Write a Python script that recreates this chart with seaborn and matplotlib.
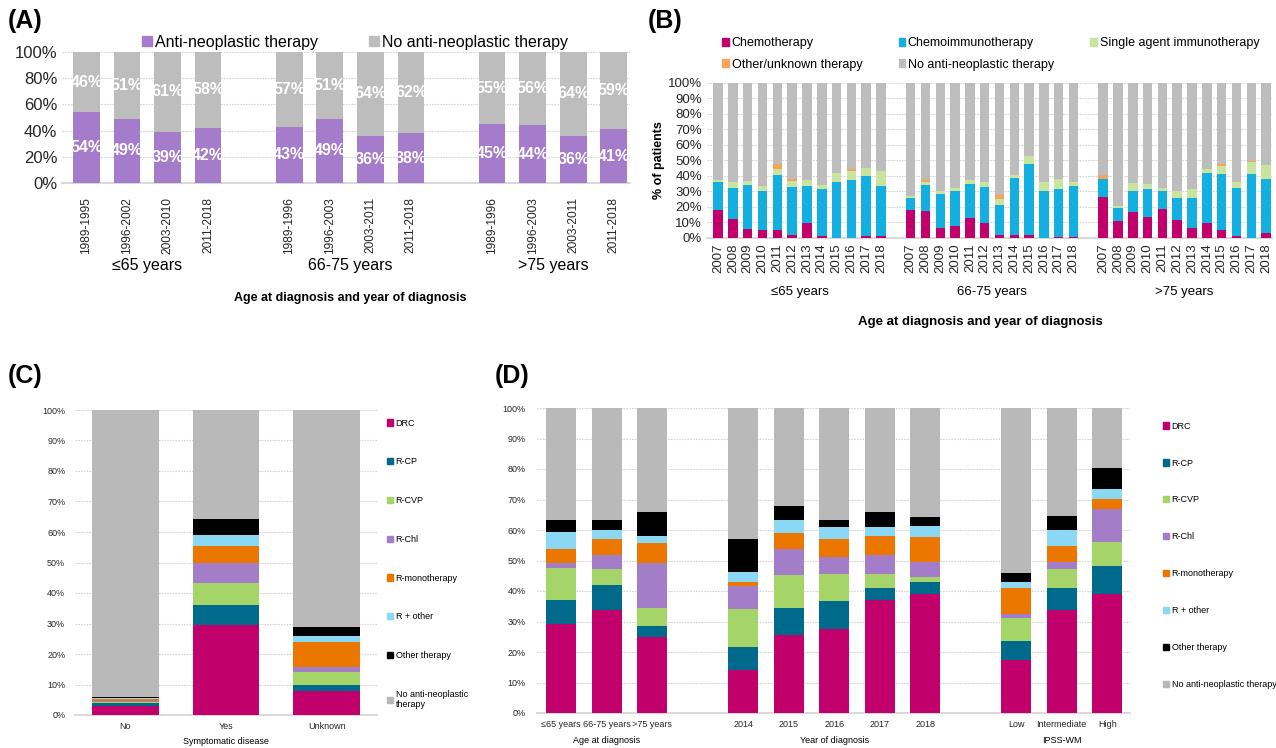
import numpy as np
import matplotlib

matplotlib.use("Agg")
import matplotlib.pyplot as plt
import seaborn as sns
from matplotlib.patches import Patch
from matplotlib import font_manager

W, H = 1276, 748

# ---------------- panel A: any therapy, by age group and period
a_ticks = ["1989-1995", "1996-2002", "2003-2010", "2011-2018",
           "1989-1996", "1996-2003", "2003-2011", "2011-2018",
           "1989-1996", "1996-2003", "2003-2011", "2011-2018"]
a_groups = ["≤65 years", "66-75 years", ">75 years"]
a_treated = [54, 49, 39, 42, 43, 49, 36, 38, 45, 44, 36, 41]
a_untreated = [46, 51, 61, 58, 57, 51, 64, 62, 55, 56, 64, 59]

# ---------------- panel B: therapy type by year (2007-2018) per age group
b_years = [str(y) for y in range(2007, 2019)]
b_groups = ["≤65 years", "66-75 years", ">75 years"]
b_chemo = [18, 12, 6, 5, 5, 2, 9.5, 1.3, 0, 0, 1.5, 1.3,
           17.8, 17.1, 6.6, 7.7, 12.6, 9.9, 1.9, 1.9, 1.9, 0, 0.6, 0.6,
           26.3, 11.1, 16.7, 13.5, 18.8, 11.8, 6.2, 9.9, 5.4, 1.3, 0, 3]
b_chemoimmuno = [18, 20, 28, 25, 35.5, 31, 24, 30, 36, 37.5, 38.5, 32.5,
                 7.7, 17.2, 21.7, 22.7, 22.1, 23.3, 19.7, 36.6, 45.6, 30, 30.9, 33,
                 11.8, 8, 13.7, 18.2, 11.6, 13.7, 19.3, 32.3, 36.1, 31.2, 41.1, 35.1]
b_single = [1.3, 4, 3, 3.5, 4.3, 3.6, 3.7, 3, 5.8, 5.8, 5, 9.4,
            1.5, 1.7, 1.7, 1.7, 2.6, 2.8, 3.7, 2.2, 5.2, 6, 6.6, 2.8,
            0, 1.5, 4.9, 3, 2.1, 4.9, 6, 2.1, 4.8, 3.9, 8.2, 9]
b_other = [0, 0, 0, 0, 2.8, 1.3, 0, 0, 0, 1, 0, 0,
           0, 1.5, 0, 0, 0, 0, 2.5, 0, 0, 0, 0, 0,
           2.6, 0, 0, 0, 0, 0, 0, 0, 1.2, 0, 0.6, 0]

# ---------------- panel C: first-line regimen by symptomatic disease
c_cats = ["No", "Yes", "Unknown"]
c_drc = [3.1, 29.6, 7.8]
c_rcp = [0.7, 6.4, 2.0]
c_rcvp = [0.3, 7.3, 4.2]
c_rchl = [0.5, 6.5, 1.9]
c_rmono = [0.6, 5.7, 7.9]
c_rother = [0.3, 3.6, 2.0]
c_othertx = [0.3, 5.1, 3.2]

# ---------------- panel D: first-line regimen by age, year and IPSS-WM
d_cats = ["≤65 years", "66-75 years", ">75 years",
          "2014", "2015", "2016", "2017", "2018",
          "Low", "Intermediate", "High"]
d_groups = ["Age at diagnosis", "Year of diagnosis", "IPSS-WM"]
d_drc = [29.3, 33.8, 25.0, 14.0, 25.5, 27.5, 36.9, 39.1, 17.3, 33.7, 39.0]
d_rcp = [7.9, 8.3, 3.6, 7.7, 8.9, 9.3, 4.2, 3.8, 6.3, 7.4, 9.2]
d_rcvp = [10.5, 5.1, 5.8, 12.4, 10.7, 8.9, 4.6, 1.7, 7.4, 6.0, 7.8]
d_rchl = [1.4, 4.5, 14.7, 7.6, 8.8, 5.4, 6.1, 4.9, 1.5, 2.4, 10.9]
d_rmono = [4.6, 5.5, 6.5, 1.2, 5.2, 5.8, 6.2, 8.2, 8.4, 5.3, 3.3]
d_rother = [5.6, 2.7, 2.4, 3.3, 4.3, 4.1, 3.0, 3.7, 2.0, 5.1, 3.2]
d_othertx = [4.1, 3.5, 7.8, 10.7, 4.6, 2.4, 5.0, 2.9, 3.1, 4.7, 7.0]

regimen_names = ["DRC", "R-CP", "R-CVP", "R-Chl", "R-monotherapy",
                 "R + other", "Other therapy", "No anti-neoplastic therapy"]
regimen_colors = ["#c1006c", "#006a8c", "#a5d568", "#a47dc9", "#ec7700",
                  "#8ad8f3", "#000000", "#b9b9b9"]
b_names = ["Chemotherapy", "Chemoimmunotherapy", "Single agent immunotherapy",
           "Other/unknown therapy", "No anti-neoplastic therapy"]
b_colors = ["#c1006c", "#14afe1", "#c8e49e", "#f5a55a", "#bdbdbd"]
PURPLE, GREY = "#a47ccb", "#bdbdbd"

sns.set_theme(style="white")
plt.rcParams["font.family"] = ["Liberation Sans", "DejaVu Sans"]
plt.rcParams["text.color"] = "black"

# condensed face for the rotated period labels of panel A, if present
installed = {f.name for f in font_manager.fontManager.ttflist}
if "Liberation Sans Narrow" in installed:
    NARROW, ROT_FS = ["Liberation Sans Narrow", "DejaVu Sans"], 10.5
else:
    NARROW, ROT_FS = ["Liberation Sans", "DejaVu Sans"], 8.6


def fx(x):
    return x / W


def fy(y):
    return 1 - y / H


def add_ax(fig, left, top, right, bottom):
    return fig.add_axes([fx(left), fy(bottom), (right - left) / W, (bottom - top) / H])


def with_gaps(sizes):
    # positions for groups of bars with one empty slot between groups
    pos, start = [], 0
    for n in sizes:
        pos += list(range(start, start + n))
        start += n + 1
    return pos


def stack_bars(ax, pos, layers, colors, width):
    # draw cumulative totals from the top down so each layer covers the next
    layers = np.array(layers, dtype=float)
    rest = 100 - layers.sum(axis=0)
    layers = np.vstack([layers, rest])
    cum = np.cumsum(layers, axis=0)
    for top, col in zip(cum[::-1], colors[::-1]):
        sns.barplot(x=pos, y=top, color=col, width=width, native_scale=True,
                    saturation=1, linewidth=0, ax=ax, zorder=3)


def style_axes(ax, step, fs, xlim):
    ax.set_xlim(*xlim)
    ax.set_ylim(0, 100)
    ticks = np.arange(0, 101, step)
    ax.set_yticks(ticks)
    ax.set_yticklabels([f"{t}%" for t in ticks], fontsize=fs)
    ax.yaxis.grid(True, color="#d4d4d4", linestyle=(0, (1.5, 1)), linewidth=0.8)
    ax.xaxis.grid(False)
    ax.set_axisbelow(True)
    for s in ["top", "right", "left"]:
        ax.spines[s].set_visible(False)
    ax.spines["bottom"].set_color("#d4d4d4")
    ax.tick_params(length=0)
    ax.set_xlabel("")
    ax.set_ylabel("")


fig = plt.figure(figsize=(W / 100, H / 100), dpi=100)
fig.patch.set_facecolor("white")

# ================= (A)
axA = add_ax(fig, 62, 52, 630, 183)
posA = with_gaps([4, 4, 4])
stack_bars(axA, posA, [a_treated], [PURPLE, GREY], 0.66)
style_axes(axA, 20, 12, (-0.6, 13.4))
axA.set_xticks(posA)
axA.set_xticklabels(a_ticks, rotation=90, fontsize=ROT_FS, family=NARROW)
axA.tick_params(axis="x", pad=10)
for p, t, u in zip(posA, a_treated, a_untreated):
    axA.text(p, t / 2, f"{t}%", color="white", fontsize=11.5, fontweight="bold",
             ha="center", va="center", zorder=5)
    axA.text(p, t + u / 2, f"{u}%", color="white", fontsize=11.5, fontweight="bold",
             ha="center", va="center", zorder=5)
for g, name in enumerate(a_groups):
    axA.text(np.mean(posA[g * 4:g * 4 + 4]), -0.63, name, transform=axA.get_xaxis_transform(),
             ha="center", va="center", fontsize=11.5)
fig.text(fx(350), fy(298), "Age at diagnosis and year of diagnosis", ha="center",
         va="center", fontsize=9, fontweight="bold")
axA.legend([Patch(color=PURPLE), Patch(color=GREY)],
           ["Anti-neoplastic therapy", "No anti-neoplastic therapy"],
           loc="center", bbox_to_anchor=(fx(355), fy(42)), bbox_transform=fig.transFigure,
           ncol=2, frameon=False, fontsize=11.5, handlelength=0.6, handleheight=0.6,
           handletextpad=0.2, columnspacing=3.2, borderpad=0)
fig.text(fx(8), fy(21), "(A)", fontsize=18, fontweight="bold", va="center")

# ================= (B)
axB = add_ax(fig, 707, 83, 1272, 238)
posB = with_gaps([12, 12, 12])
stack_bars(axB, posB, [b_chemo, b_chemoimmuno, b_single, b_other], b_colors, 0.64)
style_axes(axB, 10, 9.5, (-0.75, 37.4))
axB.set_xticks(posB)
axB.set_xticklabels(b_years * 3, rotation=90, fontsize=9.5)
axB.tick_params(axis="x", pad=4)
for g, name in enumerate(b_groups):
    axB.text(np.mean(posB[g * 12:g * 12 + 12]), -0.35, name, transform=axB.get_xaxis_transform(),
             ha="center", va="center", fontsize=9.5)
fig.text(fx(980), fy(322), "Age at diagnosis and year of diagnosis", ha="center",
         va="center", fontsize=9.5, fontweight="bold")
fig.text(fx(659), fy(160), "% of patients", rotation=90, ha="center", va="center",
         fontsize=9, fontweight="bold")
order = [0, 3, 1, 4, 2]
axB.legend([Patch(color=b_colors[i]) for i in order], [b_names[i] for i in order],
           loc="upper left", bbox_to_anchor=(fx(716), fy(31)), bbox_transform=fig.transFigure,
           ncol=3, frameon=False, fontsize=9, handlelength=0.55, handleheight=0.55,
           handletextpad=0.2, columnspacing=2.9, labelspacing=0.75, borderpad=0)
fig.text(fx(648), fy(21), "(B)", fontsize=18, fontweight="bold", va="center")

# ================= (C)
axC = add_ax(fig, 75, 410, 377, 715)
posC = [0, 1, 2]
stack_bars(axC, posC, [c_drc, c_rcp, c_rcvp, c_rchl, c_rmono, c_rother, c_othertx],
           regimen_colors, 0.66)
style_axes(axC, 10, 6.5, (-0.5, 2.5))
axC.set_xticks(posC)
axC.set_xticklabels(c_cats, fontsize=6.5)
axC.tick_params(axis="x", pad=5)
axC.tick_params(axis="y", pad=7)
fig.text(fx(226), fy(742), "Symptomatic disease", ha="center", va="center", fontsize=6.5)
c_labels = regimen_names[:-1] + ["No anti-neoplastic\ntherapy"]
axC.legend([Patch(color=c) for c in regimen_colors], c_labels,
           loc="upper left", bbox_to_anchor=(fx(382), fy(414)), bbox_transform=fig.transFigure,
           frameon=False, fontsize=6.5, handlelength=0.7, handleheight=0.7,
           handletextpad=0.3, labelspacing=3.3, borderpad=0)
fig.text(fx(8), fy(376), "(C)", fontsize=18, fontweight="bold", va="center")

# ================= (D)
axD = add_ax(fig, 537, 408, 1130, 713)
posD = with_gaps([3, 5, 3])
stack_bars(axD, posD, [d_drc, d_rcp, d_rcvp, d_rchl, d_rmono, d_rother, d_othertx],
           regimen_colors, 0.66)
style_axes(axD, 10, 6.5, (-0.53, 12.5))
axD.set_xticks(posD)
axD.set_xticklabels(d_cats, fontsize=6.5)
axD.tick_params(axis="x", pad=5)
axD.tick_params(axis="y", pad=8)
for name, sl in zip(d_groups, [slice(0, 3), slice(3, 8), slice(8, 11)]):
    axD.text(np.mean(posD[sl]), -0.09, name, transform=axD.get_xaxis_transform(),
             ha="center", va="center", fontsize=6.5)
axD.legend([Patch(color=c) for c in regimen_colors], regimen_names,
           loc="upper left", bbox_to_anchor=(fx(1158), fy(417)), bbox_transform=fig.transFigure,
           frameon=False, fontsize=6.5, handlelength=0.7, handleheight=0.7,
           handletextpad=0.3, labelspacing=3.1, borderpad=0)
fig.text(fx(495), fy(376), "(D)", fontsize=18, fontweight="bold", va="center")

fig.savefig("out.png", dpi=100, facecolor="white")
